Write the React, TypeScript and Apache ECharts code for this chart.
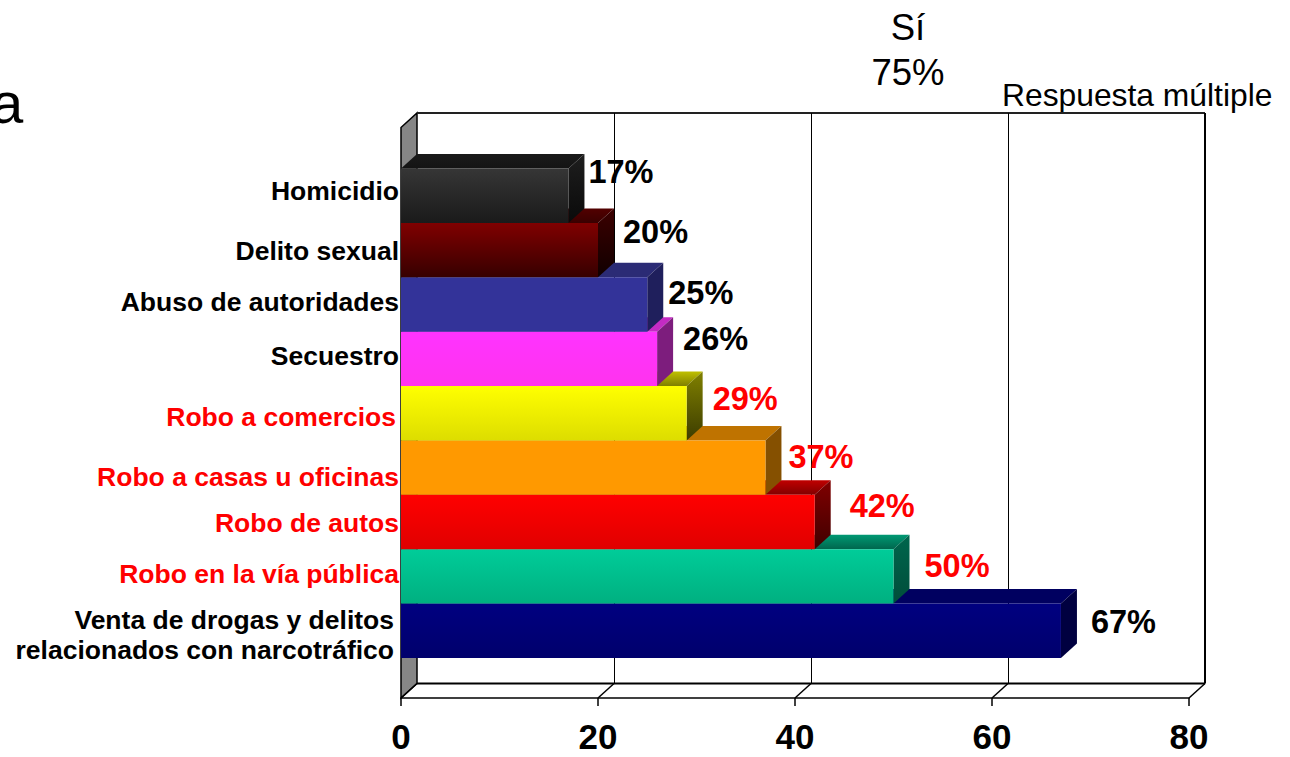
import React, { useEffect, useRef } from "react";
import * as echarts from "echarts";

const categories = [
  "Homicidio",
  "Delito sexual",
  "Abuso de autoridades",
  "Secuestro",
  "Robo a comercios",
  "Robo a casas u oficinas",
  "Robo de autos",
  "Robo en la vía pública",
  "Venta de drogas y delitos\nrelacionados con narcotráfico",
];
const values = [17, 20, 25, 26, 29, 37, 42, 50, 67];
const xTicks = [0, 20, 40, 60, 80];
const labelColors = ["#000", "#000", "#000", "#000", "#f00", "#f00", "#f00", "#f00", "#000"];

// [front top, front bottom, side top, side bottom, top-face back, top-face front]
const barPalette = [
  ["#363636", "#1a1a1a", "#1e1e1e", "#0a0a0a", "#1a1a1a", "#141414"],
  ["#800000", "#360000", "#3c0000", "#100000", "#520000", "#3a0000"],
  ["#333399", "#333399", "#1f1f5c", "#1f1f5c", "#2b2b75", "#2b2b75"],
  ["#ff33ff", "#ff33ee", "#7d1d7d", "#7d1d7d", "#c42bc4", "#c42bc4"],
  ["#ffff00", "#dddd00", "#808000", "#3c3c00", "#bfbf00", "#808000"],
  ["#ff9900", "#ff9900", "#855000", "#855000", "#bf7300", "#bf7300"],
  ["#ff0000", "#e00000", "#800000", "#400000", "#c00000", "#800000"],
  ["#00cc99", "#00b080", "#00664d", "#004d3a", "#009973", "#00664d"],
  ["#000080", "#00006c", "#000040", "#000040", "#000060", "#000060"],
];

// layout nudges, in pixels
const valueLabelDx = [20, 25, 21, 26, 26, 23, 35, 31, 30];
const valueLabelDy = [-24, -18, -11, -20, -14, -11, -16, -10, -9];
const valueLabelColors = ["#000", "#000", "#000", "#000", "#f00", "#f00", "#f00", "#f00", "#000"];
const catShift = [-5, 1, -2, -3, 4, 9, 1, -2, 4];
const catInset = [0, 0, 0, 0, 3, 0, 0, 0, 5];

const DX = 16;
const DY = -14.5;
const GRID_TOP = 168.5;
const GRID_H = 489.5;
const WALL_TOP = 127.5;
const FLOOR = 698;
const FONT = "'Liberation Sans', Arial, sans-serif";

const grad = (a: string, b: string) =>
  new echarts.graphic.LinearGradient(0, 0, 0, 1, [
    { offset: 0, color: a },
    { offset: 1, color: b },
  ]);

export default function App() {
  const ref = useRef<HTMLDivElement>(null);
  useEffect(() => {
    const chart = echarts.init(ref.current!, undefined, { renderer: "svg" });

    const rich: Record<string, any> = {};
    categories.forEach((_, i) => {
      const s = catShift[i];
      rich["c" + i] = {
        color: labelColors[i],
        fontFamily: FONT,
        fontWeight: "bold",
        fontSize: 26.5,
        lineHeight: 30,
        align: "right",
        padding: [s > 0 ? s * 2 : 0, catInset[i], s < 0 ? -s * 2 : 0, 0],
      };
    });

    const renderWalls = (_: any, api: any) => {
      const [x0] = api.coord([0, 0]);
      const [x1] = api.coord([80, 0]);
      const line = (a: number[], b: number[], w: number, c = "#000") => ({
        type: "line",
        shape: { x1: a[0], y1: a[1], x2: b[0], y2: b[1] },
        style: { stroke: c, lineWidth: w },
      });
      const children: any[] = [
        {
          type: "polygon",
          shape: { points: [[x0, WALL_TOP], [x0 + DX, WALL_TOP + DY], [x0 + DX, FLOOR + DY], [x0, FLOOR]] },
          style: { fill: "#868686", stroke: "#000", lineWidth: 1.5 },
        },
        line([x0 + DX, WALL_TOP + DY], [x1 + DX, WALL_TOP + DY], 2, "#222"),
        line([x1 + DX, WALL_TOP + DY], [x1 + DX, FLOOR + DY], 2),
        line([x0 + DX, FLOOR + DY], [x1 + DX, FLOOR + DY], 2),
      ];
      xTicks.forEach((t) => {
        const [x] = api.coord([t, 0]);
        children.push(line([x, FLOOR], [x + DX, FLOOR + DY], 1.5));
        if (t > 0 && t < 80) children.push(line([x + DX + 0.5, WALL_TOP + DY], [x + DX + 0.5, FLOOR + DY], 1));
      });
      return { type: "group", children };
    };

    const renderBar = (_: any, api: any) => {
      const v = api.value(0);
      const i = api.value(1);
      const [x, yc] = api.coord([v, i]);
      const [x0] = api.coord([0, i]);
      const h = api.size([0, 1])[1];
      const top = yc - h / 2;
      const bot = yc + h / 2;
      const p = barPalette[i];
      return {
        type: "group",
        children: [
          {
            type: "polygon",
            shape: { points: [[x0, top], [x0 + DX, top + DY], [x + DX, top + DY], [x, top]] },
            style: { fill: grad(p[4], p[5]) },
          },
          {
            type: "polygon",
            shape: { points: [[x, top], [x + DX, top + DY], [x + DX, bot + DY], [x, bot]] },
            style: { fill: grad(p[2], p[3]) },
          },
          {
            type: "rect",
            shape: { x: x0, y: top, width: x - x0, height: h },
            style: { fill: grad(p[0], p[1]) },
          },
        ],
      };
    };

    const renderLabel = (_: any, api: any) => {
      const v = api.value(0);
      const i = api.value(1);
      const [x, y] = api.coord([v, i]);
      return {
        type: "text",
        x: x + valueLabelDx[i],
        y: y + valueLabelDy[i],
        style: {
          text: v + "%",
          fill: valueLabelColors[i],
          font: `bold 32.5px ${FONT}`,
          textAlign: "left",
          textVerticalAlign: "middle",
        },
      };
    };

    // drawn from the bottom bar upward, so each bar's front hides the top face of the one below
    const barRows = values.map((v, i) => [v, i]).reverse();

    chart.setOption({
      animation: false,
      backgroundColor: "#fff",
      grid: { left: 401, width: 788, top: GRID_TOP, height: GRID_H, containLabel: false },
      xAxis: {
        type: "value",
        min: 0,
        max: 80,
        interval: 20,
        position: "bottom",
        offset: FLOOR - (GRID_TOP + GRID_H),
        axisLine: { show: true, lineStyle: { color: "#000", width: 1.5 } },
        axisTick: { show: true, length: 8, lineStyle: { color: "#000", width: 1.5 } },
        splitLine: { show: false },
        axisLabel: {
          margin: 21,
          color: "#000",
          fontFamily: FONT,
          fontWeight: "bold",
          fontSize: 35,
          showMinLabel: true,
          showMaxLabel: true,
        },
      },
      yAxis: {
        type: "category",
        inverse: true,
        data: categories,
        axisLine: { show: false },
        axisTick: { show: false },
        axisLabel: {
          margin: 2,
          interval: 0,
          align: "right",
          formatter: (val: string) => {
            const i = categories.indexOf(val);
            return val.split("\n").map((l) => `{c${i}|${l}}`).join("\n");
          },
          rich,
        },
      },
      series: [
        { type: "custom", name: "walls", renderItem: renderWalls, data: [[0]], clip: false, silent: true, z: 1,
          encode: { x: 0 } },
        { type: "custom", name: "barras", renderItem: renderBar, data: barRows, clip: false, z: 2,
          encode: { x: 0 } },
        { type: "custom", name: "etiquetas", renderItem: renderLabel, data: barRows, clip: false, z: 3,
          encode: { x: 0 } },
      ],
      graphic: [
        { type: "text", x: 908, y: 27, style: { text: "Sí", fill: "#000", font: `36.5px ${FONT}`, textAlign: "center", textVerticalAlign: "middle" } },
        { type: "text", x: 908, y: 72, style: { text: "75%", fill: "#000", font: `36.5px ${FONT}`, textAlign: "center", textVerticalAlign: "middle" } },
        { type: "text", x: 1002, y: 95, style: { text: "Respuesta múltiple", fill: "#000", font: `31.8px ${FONT}`, textAlign: "left", textVerticalAlign: "middle" } },
        { type: "text", x: -9, y: 102, style: { text: "a", fill: "#000", font: `58px ${FONT}`, textAlign: "left", textVerticalAlign: "middle" } },
      ],
    });
    return () => chart.dispose();
  }, []);
  return <div ref={ref} style={{ position: "fixed", left: 0, top: 0, width: 1290, height: 757 }} />;
}
